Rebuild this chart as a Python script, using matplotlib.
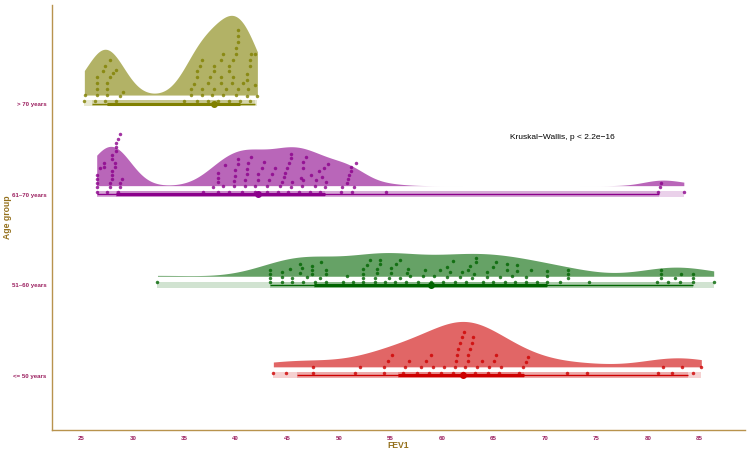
import numpy as np
import matplotlib.pyplot as plt

plt.rcParams['font.family'] = ['Liberation Sans', 'DejaVu Sans']

# age groups, bottom to top
groups = ['<= 50 years', '51–60 years', '61–70 years', '> 70 years']
colors = ['#CD0000', '#006400', '#8B008B', '#808000']
bandwidths = [3.0, 3.0, 1.7, 1.45]  # kde smoothing per group

fev_le50 = [43.65, 44.9, 47.5, 47.5, 51.6, 52.1, 54.4, 54.4, 54.75, 55.2, 56.2, 56.4,
            56.8, 57.6, 58.0, 58.5, 58.8, 58.95, 59.15, 59.9, 60.25, 61.1, 61.25,
            61.35, 61.5, 61.6, 61.8, 61.95, 62.1, 62.2, 62.3, 62.5, 62.5, 62.75, 62.9,
            63.05, 63.25, 63.4, 63.9, 64.45, 64.6, 65.1, 65.3, 65.6, 65.75, 67.5,
            67.85, 68.2, 68.4, 72.2, 74.1, 81.0, 81.5, 82.4, 83.35, 84.35, 85.2]

fev_51_60 = [32.4, 43.3, 43.3, 43.3, 43.3, 44.45, 44.45, 44.45, 45.3, 45.5, 45.5,
             46.2, 46.2, 46.4, 46.56, 46.9, 47.4, 47.4, 47.4, 47.7, 48.2, 48.3, 48.8,
             48.8, 48.8, 50.4, 50.8, 51.4, 52.4, 52.4, 52.4, 52.4, 52.7, 53.0, 53.5,
             53.5, 53.7, 53.7, 54.0, 54.0, 54.5, 54.9, 55.1, 55.1, 55.5, 55.6, 55.9,
             55.9, 56.5, 56.6, 56.75, 56.9, 57.7, 58.2, 58.4, 59.0, 59.2, 59.8, 60.15,
             60.5, 60.5, 60.8, 61.1, 61.3, 61.8, 62.0, 62.4, 62.5, 62.7, 62.9, 63.1,
             63.3, 63.3, 64.0, 64.4, 64.4, 65.0, 65.0, 65.3, 65.65, 66.1, 66.3, 66.3,
             66.8, 67.1, 67.3, 67.3, 68.2, 68.2, 68.7, 69.2, 70.2, 70.2, 70.2, 71.5,
             72.3, 72.3, 72.3, 74.3, 80.9, 81.25, 81.25, 81.25, 82.0, 82.65, 83.1,
             83.2, 84.4, 84.4, 84.4, 86.4]

fev_61_70 = [26.5, 26.5, 26.5, 26.5, 26.5, 26.8, 27.2, 27.2, 27.5, 27.8, 27.8, 28.0,
             28.0, 28.0, 28.0, 28.0, 28.3, 28.3, 28.4, 28.4, 28.4, 28.6, 28.6, 28.8,
             28.8, 28.8, 29.0,
             36.85, 37.8, 38.3, 38.3, 38.3, 38.3, 38.8, 38.95, 39.3, 39.8, 39.8, 39.9,
             39.9, 40.2, 40.2, 40.6, 40.9, 40.9, 41.05, 41.05, 41.2, 41.5, 41.9, 41.9,
             42.2, 42.2, 42.5, 42.7, 43.0, 43.0, 43.2, 43.5, 43.8, 44.1, 44.3,
             44.45, 44.7, 44.8, 45.0, 45.1, 45.2, 45.4, 45.4, 45.4, 45.5, 46.1, 46.3,
             46.4, 46.5, 46.5, 46.5, 46.8, 47.2, 47.3, 47.7, 47.8, 48.1, 48.2, 48.4,
             48.6, 48.7, 48.8, 49.0, 50.2, 50.3, 50.8, 50.9, 51.0, 51.15, 51.15, 51.25,
             51.5, 51.7, 54.6, 81.0, 81.2, 81.3, 83.5]

fev_gt70 = [25.3, 25.4, 26.3, 26.5, 26.5, 26.5, 26.5, 27.1, 27.3, 27.3, 27.5, 27.5,
            27.5, 27.8, 27.8, 28.1, 28.4, 28.4, 28.8, 29.1,
            35.0, 35.7, 35.7, 35.9, 36.2, 36.2, 36.2, 36.5, 36.7, 36.7, 36.7, 37.3,
            37.3, 37.5, 37.7, 37.9, 37.9, 37.9, 38.3, 38.6, 38.6, 38.6, 38.8, 38.8,
            39.1, 39.3, 39.3, 39.3, 39.6, 39.7, 39.7, 40.0, 40.0, 40.0, 40.2, 40.2,
            40.2, 40.2, 40.4, 40.7, 41.1, 41.1, 41.1, 41.2, 41.4, 41.4, 41.4, 41.5,
            41.9, 41.9, 42.1]

fev = [fev_le50, fev_51_60, fev_61_70, fev_gt70]
x_ticks = [25, 30, 35, 40, 45, 50, 55, 60, 65, 70, 75, 80, 85]
kw_text = 'Kruskal−Wallis, p < 2.2e−16'

tick_col = '#9B1F5F'
title_col = '#94701C'
spine_col = '#B8934D'


def kde(x, grid, bw):
    x = np.asarray(x, float)
    z = (grid[:, None] - x[None, :]) / bw
    return np.exp(-0.5 * z ** 2).sum(1) / (len(x) * bw * np.sqrt(2 * np.pi))


def swarm(x, d):
    # lowest free row for each dot, left to right
    xs = np.sort(np.asarray(x, float))
    rows = []
    for i, v in enumerate(xs):
        r = 0
        while any(rows[j] == r and abs(v - xs[j]) < d for j in range(i)):
            r += 1
        rows.append(r)
    rows = np.array(rows)
    top = np.array([rows[np.abs(xs - v) < d].max() for v in xs])
    return xs, rows, top


grids = [np.linspace(min(v), max(v), 400) for v in fev]
dens = [kde(v, g, bw) for v, g, bw in zip(fev, grids, bandwidths)]
dmax = max(d.max() for d in dens)

fig = plt.figure(figsize=(7.5, 4.55), dpi=100)
ax = fig.add_axes([52 / 750, 25 / 455, 693 / 750, 425 / 455])

for i, (vals, col) in enumerate(zip(fev, colors)):
    y0 = i + 1
    base = y0 + 0.1
    h = dens[i] / dmax * 0.88
    ax.fill_between(grids[i], base, base + h, color=col, alpha=0.6, lw=0, zorder=1)

    q = np.percentile(vals, [0, 2.5, 17, 50, 83, 97.5, 100])
    for lo, hi in [(q[0], q[6]), (q[1], q[5]), (q[2], q[4])]:
        ax.fill_between([lo, hi], y0 - 0.025, y0 + 0.04, color=col, alpha=0.18,
                        lw=0, zorder=2)
    ax.plot([q[1], q[5]], [y0 + 0.006] * 2, color=col, lw=1.0,
            solid_capstyle='butt', zorder=3)
    ax.plot([q[2], q[4]], [y0 + 0.006] * 2, color=col, lw=2.2,
            solid_capstyle='butt', zorder=3)
    ax.plot(q[3], y0 + 0.006, 'o', color=col, ms=4, zorder=4)

    # dots spread from the band up to the slab outline
    xs, rows, top = swarm(vals, 1.0)
    room = 0.1 + np.interp(xs, grids[i], h) - 0.06
    step = np.clip(room / (top + 1), 0.045, 0.065)
    ax.plot(xs, y0 + 0.035 + rows * step, 'o', color=col, ms=2.5, alpha=0.8,
            mew=0, zorder=5)

ax.text(66.6, 3.63, kw_text, fontsize=6, ha='left', va='center', color='black')

ax.set_xlim(22.16, 89.44)
ax.set_ylim(0.403, 5.094)
ax.set_xticks(x_ticks)
ax.set_xticklabels([str(t) for t in x_ticks])
ax.set_yticks([1, 2, 3, 4])
ax.set_yticklabels(groups)
ax.tick_params(length=0, labelsize=4.4, labelcolor=tick_col, pad=4)
for lab in ax.get_xticklabels() + ax.get_yticklabels():
    lab.set_fontweight('bold')

ax.set_xlabel('FEV1', fontsize=6.2, fontweight='bold', color=title_col)
ax.set_ylabel('Age group', fontsize=6.2, fontweight='bold', color=title_col)
ax.xaxis.set_label_coords(0.5, -0.026)
ax.yaxis.set_label_coords(-0.058, 0.5)

for s in ['top', 'right']:
    ax.spines[s].set_visible(False)
for s in ['left', 'bottom']:
    ax.spines[s].set_color(spine_col)
    ax.spines[s].set_linewidth(1.0)

fig.savefig('out.png', dpi=100)
